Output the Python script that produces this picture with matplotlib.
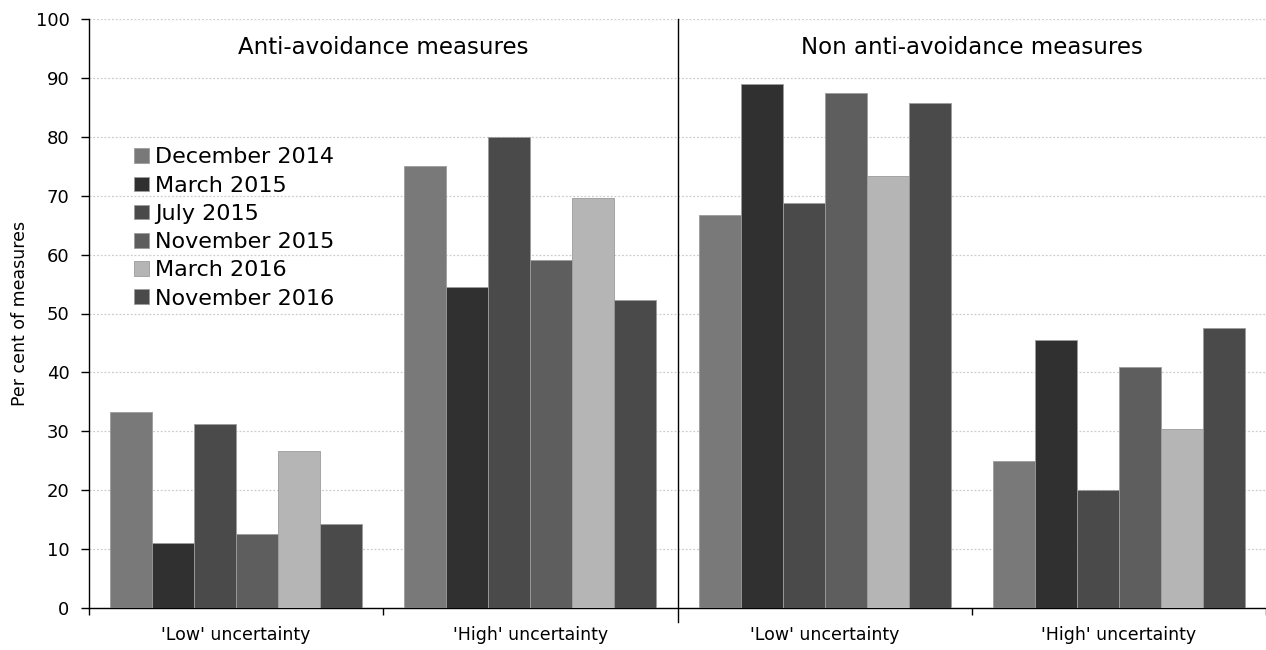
import matplotlib
matplotlib.use("Agg")
import matplotlib.pyplot as plt
import numpy as np

plt.rcParams['font.family'] = ['DejaVu Sans']

categories = ["'Low' uncertainty", "'High' uncertainty", "'Low' uncertainty", "'High' uncertainty"]
panel_titles = ["Anti-avoidance measures", "Non anti-avoidance measures"]
series_names = ["December 2014", "March 2015", "July 2015", "November 2015", "March 2016", "November 2016"]
values = {
    "December 2014": [33.3, 75.0, 66.7, 25.0],
    "March 2015":    [11.1, 54.5, 88.9, 45.5],
    "July 2015":     [31.25, 80.0, 68.75, 20.0],
    "November 2015": [12.5, 59.1, 87.5, 40.9],
    "March 2016":    [26.7, 69.6, 73.3, 30.4],
    "November 2016": [14.3, 52.3, 85.7, 47.6],
}
colors = ["#797979", "#303030", "#4a4a4a", "#5e5e5e", "#b5b5b5", "#4a4a4a"]
y_ticks = list(range(0, 101, 10))

fig = plt.figure(figsize=(12.66, 6.5), dpi=100)
ax = fig.add_axes([89/1266, 42/650, 1177/1266, 589/650])

x = np.arange(len(categories))
w = 1/7
for i, name in enumerate(series_names):
    ax.bar(x + (i - 2.5) * w, values[name], width=w, color=colors[i],
           edgecolor="#9c9c9c", linewidth=0.6, label=name, zorder=3)

ax.set_xlim(-0.5, 3.5)
ax.set_ylim(0, 100)
ax.set_yticks(y_ticks)
ax.tick_params(axis='y', labelsize=13, length=6, width=1, direction='out', pad=8, colors='black')
ax.set_xticks(x)
ax.set_xticklabels(categories, fontsize=12.5)
ax.tick_params(axis='x', which='major', length=0, pad=13)
ax.set_xticks([-0.5, 0.5, 2.5, 3.5], minor=True)
ax.tick_params(axis='x', which='minor', length=5, width=1, direction='out')

ax.grid(axis='y', linestyle=(0, (1.5, 1.5)), color='#cccccc', linewidth=0.9, zorder=0)
for s in ['top', 'right']:
    ax.spines[s].set_visible(False)
ax.spines['left'].set_linewidth(1)
ax.spines['bottom'].set_linewidth(1)

# divider between panels
ax.plot([1.5, 1.5], [-2.4, 100], color='black', linewidth=1, clip_on=False, zorder=4)

ax.text(0.5, 95.2, panel_titles[0], ha='center', va='center', fontsize=16.5)
ax.text(2.5, 95.2, panel_titles[1], ha='center', va='center', fontsize=16.5)

ax.set_ylabel("Per cent of measures", fontsize=12.5, labelpad=5)

leg = ax.legend(loc='upper left', bbox_to_anchor=(0.031, 0.797), frameon=False,
                fontsize=16, handlelength=0.64, handleheight=0.64, handletextpad=0.3,
                labelspacing=0.37, borderaxespad=0)

fig.savefig("out.png", dpi=100)
